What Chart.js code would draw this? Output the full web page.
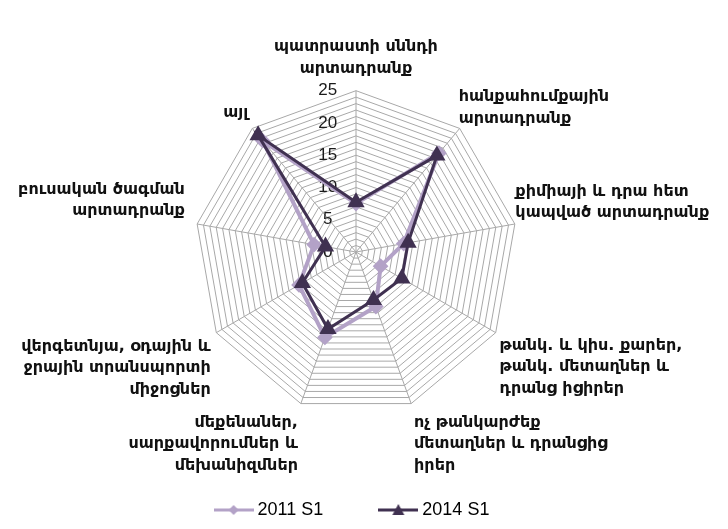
<!DOCTYPE html>
<html>
<head>
<meta charset="utf-8">
<script src="https://cdn.jsdelivr.net/npm/chart.js@4.4.1/dist/chart.umd.min.js"></script>
<style>
  html, body { margin: 0; padding: 0; background: #fff; }
  #chart { display: block; }
</style>
</head>
<body>
<canvas id="chart" width="728" height="529"></canvas>
<script>
// categories, clockwise from the top
const categories = [
  ['պատրաստի սննդի', 'արտադրանք'],
  ['հանքահումքային', 'արտադրանք'],
  ['քիմիայի և դրա հետ', 'կապված արտադրանք'],
  ['թանկ. և կիս. քարեր,', 'թանկ. մետաղներ և', 'դրանց իցիրեր'],
  ['ոչ թանկարժեք', 'մետաղներ և դրանցից', 'իրեր'],
  ['մեքենաներ,', 'սարքավորումներ և', 'մեխանիզմներ'],
  ['վերգետնյա, օդային և', 'ջրային տրանսպորտի', 'միջոցներ'],
  ['բուսական ծագման', 'արտադրանք'],
  'այլ'
];
const series2011 = [7.5, 20.0, 7.5, 4.4, 9.0, 14.1, 10.2, 6.6, 22.5];
const series2014 = [7.7, 19.5, 8.2, 8.2, 7.9, 12.7, 9.6, 4.8, 23.6];
const tickLabels = [0, 5, 10, 15, 20, 25];

// extra gap between each category label and the outer ring
const labelGap = [1, -12, -10, -6, -2, -2, -4, 2, -4];

const light = '#b3a2c7';
const dark = '#403151';

// legend icon: short line with the marker in the middle
const legendIcon = (color, shape) => {
  const c = document.createElement('canvas');
  c.width = 40; c.height = 16;
  const g = c.getContext('2d');
  g.strokeStyle = color; g.fillStyle = color; g.lineWidth = 3;
  g.beginPath(); g.moveTo(0, 8); g.lineTo(40, 8); g.stroke();
  g.beginPath();
  if (shape === 'triangle') {
    g.moveTo(20, 2); g.lineTo(26, 13); g.lineTo(14, 13);
  } else {
    g.moveTo(20, 3); g.lineTo(25, 8); g.lineTo(20, 13); g.lineTo(15, 8);
  }
  g.closePath(); g.fill();
  return c;
};
const icons = [legendIcon(light, 'diamond'), legendIcon(dark, 'triangle')];
const legendTail = ['        ', '    ']; // spacing between / after legend items

const pad = '            '; // pushes tick numbers left of the axis

new Chart(document.getElementById('chart'), {
  type: 'radar',
  data: {
    labels: categories,
    datasets: [
      { label: '2011 S1', data: series2011, order: 1, borderColor: light, backgroundColor: light,
        pointBorderColor: light, pointBackgroundColor: light, borderWidth: 4,
        pointStyle: 'rectRot', pointRadius: 5, fill: false },
      { label: '2014 S1', data: series2014, order: 0, borderColor: dark, backgroundColor: dark,
        pointBorderColor: dark, pointBackgroundColor: dark, borderWidth: 3,
        pointStyle: 'triangle', pointRadius: 7, fill: false }
    ]
  },
  options: {
    responsive: false,
    animation: false,
    layout: { padding: { top: 32, right: 0, left: 0, bottom: 0 } },
    elements: { line: { tension: 0 } },
    scales: {
      r: {
        min: -0.00001,
        max: 25,
        ticks: {
          stepSize: 1,
          autoSkip: false,
          showLabelBackdrop: false,
          color: '#1a1a1a',
          font: { family: 'Liberation Sans', size: 17 },
          callback: (v) => tickLabels.includes(Math.round(v)) ? Math.round(v) + pad : ''
        },
        grid: { color: '#a8a8a8', lineWidth: 1 },
        angleLines: { color: '#a8a8a8', lineWidth: 1 },
        pointLabels: {
          color: '#111',
          padding: (ctx) => labelGap[ctx.index],
          font: { family: 'DejaVu Sans', size: 16, weight: 'bold', lineHeight: 1.35 }
        }
      }
    },
    plugins: {
      tooltip: { enabled: false },
      legend: {
        position: 'bottom',
        labels: {
          usePointStyle: true,
          pointStyleWidth: 30,
          padding: 20,
          color: '#111',
          font: { family: 'Liberation Sans', size: 18 },
          generateLabels: (chart) => chart.data.datasets.map((ds, i) => ({
            text: ds.label + legendTail[i], pointStyle: icons[i], datasetIndex: i, hidden: false,
            lineWidth: 0, fillStyle: ds.borderColor, strokeStyle: ds.borderColor
          }))
        }
      }
    }
  }
});
</script>
</body>
</html>
